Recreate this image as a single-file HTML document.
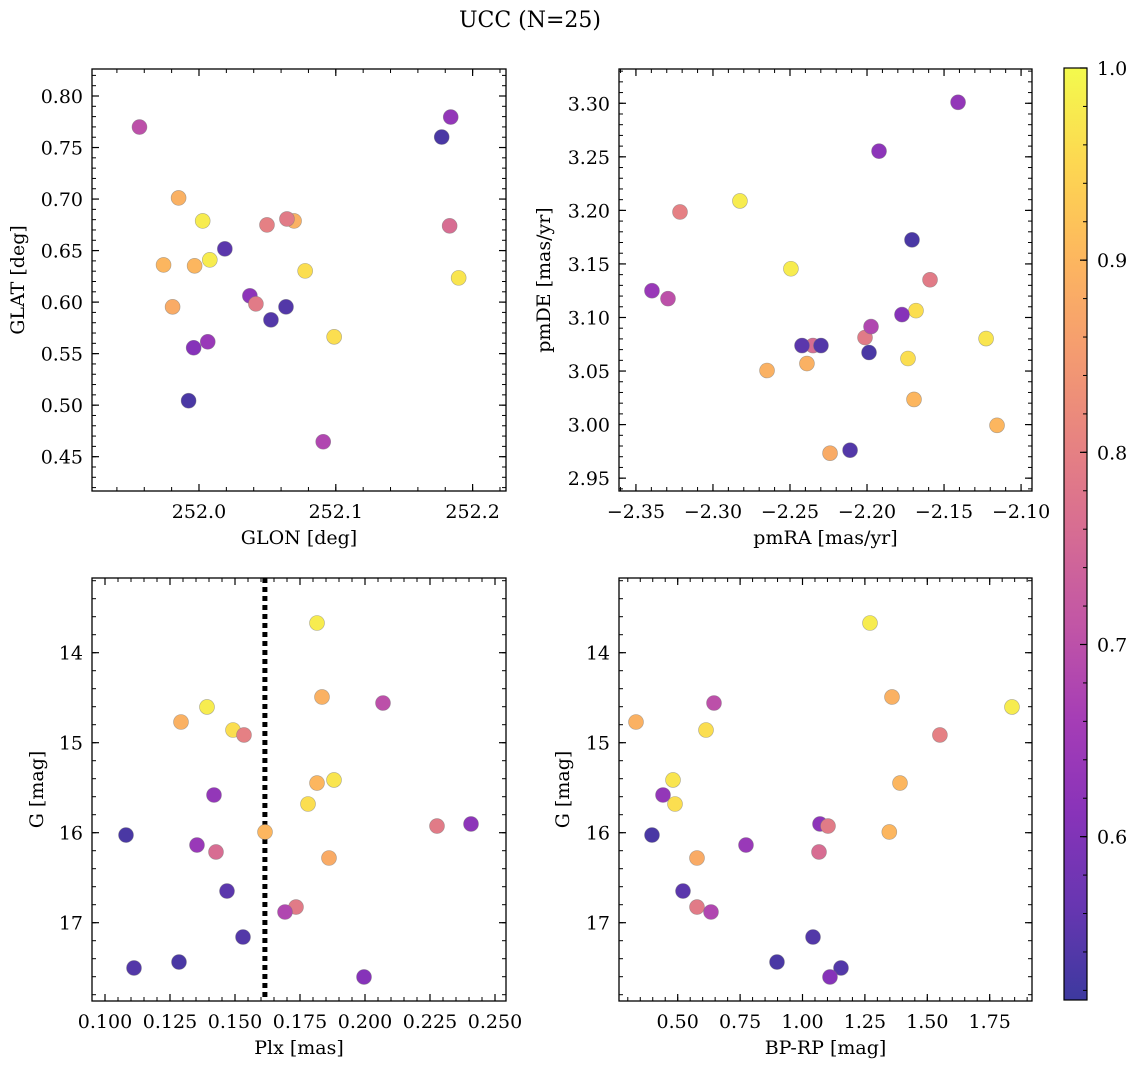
<!DOCTYPE html>
<html><head><meta charset="utf-8"><style>
html,body{margin:0;padding:0;background:#fff;}
svg text{font-family:"DejaVu Serif","Liberation Serif",serif;fill:#000;}
</style></head><body>
<svg id="fig" width="1136" height="1068" viewBox="0 0 1136 1068" xmlns="http://www.w3.org/2000/svg">
<text x="530" y="27" font-size="22" text-anchor="middle">UCC (N=25)</text>
</svg>
<script>
const glon=[252.0027,251.9851,252.0695,251.9565,252.0079,252.0776,252.0497,252.1898,252.1840,251.9741,252.0988,252.1774,251.9968,252.0372,252.0643,251.9807,252.0064,252.1832,252.0189,252.0416,252.0908,252.0636,251.9924,252.0526,251.9961];
const glat=[0.6788,0.7011,0.6788,0.7699,0.6410,0.6303,0.6749,0.6235,0.7796,0.6361,0.5663,0.7602,0.6352,0.6061,0.6807,0.5954,0.5615,0.6740,0.6517,0.5983,0.4645,0.5954,0.5043,0.5828,0.5557];
const pmra=[-2.2825,-2.2649,-2.2390,-2.3292,-2.2494,-2.1682,-2.3214,-2.1227,-2.1409,-2.1695,-2.1734,-2.1708,-2.1156,-2.1922,-2.2013,-2.2240,-2.3396,-2.2351,-2.2422,-2.1591,-2.1974,-2.2299,-2.1987,-2.2110,-2.1773];
const pmde=[3.2088,3.0505,3.0570,3.1176,3.1455,3.1064,3.1985,3.0803,3.3009,3.0235,3.0617,3.1725,2.9993,3.2553,3.0813,2.9733,3.1250,3.0738,3.0738,3.1352,3.0915,3.0738,3.0673,2.9761,3.1027];
const plx=[0.18154,0.12923,0.18346,0.20692,0.13923,0.14923,0.15346,0.18808,0.14192,0.18154,0.17808,0.10808,0.16154,0.24077,0.22769,0.18615,0.13538,0.14269,0.14692,0.17346,0.16923,0.15308,0.12846,0.11115,0.19962];
const gmag=[13.670,14.770,14.492,14.559,14.603,14.859,14.914,15.414,15.581,15.448,15.681,16.026,15.992,15.903,15.926,16.281,16.137,16.214,16.648,16.826,16.881,17.159,17.437,17.503,17.603];
const bprp=[1.2704,0.3329,1.3586,0.6454,1.8393,0.6134,1.5505,0.4812,0.4411,1.3906,0.4892,0.3970,1.3478,1.0701,1.1022,0.5773,0.7736,1.0661,0.5212,0.5773,0.6334,1.0421,0.8978,1.1542,1.1101];
const prob=[0.98,0.89,0.89,0.70,0.98,0.96,0.80,0.97,0.63,0.90,0.96,0.53,0.90,0.62,0.79,0.88,0.64,0.76,0.55,0.79,0.68,0.54,0.53,0.54,0.61];
const plxLine=0.1615;
const cbTicks=[0.6,0.7,0.8,0.9,1.0];

const NS="http://www.w3.org/2000/svg";
const svg=document.getElementById('fig');
function mk(tag,attrs,parent){const e=document.createElementNS(NS,tag);for(const k in attrs)e.setAttribute(k,attrs[k]);(parent||svg).appendChild(e);return e;}
const stops=[[13,8,135],[65,4,157],[106,0,168],[143,13,164],[177,42,144],[204,71,120],[225,100,98],[242,132,75],[252,166,54],[252,206,37],[240,249,33]];
function plasma(t){t=Math.max(0,Math.min(1,t));const f=t*10,i=Math.min(9,Math.floor(f)),r=f-i;const a=stops[i],b=stops[i+1];
 const c=a.map((v,k)=>v+(b[k]-v)*r);const al=0.8;return 'rgb('+c.map(v=>Math.round(v*al+255*(1-al))).join(',')+')';}
const vmin=0.515,vmax=1.0;

function panel(o){
 const g=mk('g',{});
 
 
 const sx=v=>o.x0+(v-o.xmin)/(o.xmax-o.xmin)*(o.x1-o.x0);
 const sy=v=>o.inv? o.y0+(v-o.ymin)/(o.ymax-o.ymin)*(o.y1-o.y0) : o.y1-(v-o.ymin)/(o.ymax-o.ymin)*(o.y1-o.y0);
 const eps=1e-9;
 const nx0=Math.ceil(o.xmin/o.xmin_s-eps), nx1=Math.floor(o.xmax/o.xmin_s+eps);
 for(let n=nx0;n<=nx1;n++){const x=sx(n*o.xmin_s);
  mk('line',{x1:x,x2:x,y1:o.y1,y2:o.y1-4,stroke:'#000','stroke-width':1},g);mk('line',{x1:x,x2:x,y1:o.y0,y2:o.y0+4,stroke:'#000','stroke-width':1},g);}
 const ny0=Math.ceil(o.ymin/o.ymin_s-eps), ny1=Math.floor(o.ymax/o.ymin_s+eps);
 for(let n=ny0;n<=ny1;n++){const y=sy(n*o.ymin_s);
  mk('line',{x1:o.x0,x2:o.x0+4,y1:y,y2:y,stroke:'#000','stroke-width':1},g);mk('line',{x1:o.x1,x2:o.x1-4,y1:y,y2:y,stroke:'#000','stroke-width':1},g);}
 o.xt.forEach(v=>{const x=sx(v);
  mk('line',{x1:x,x2:x,y1:o.y1,y2:o.y1-7,stroke:'#000','stroke-width':1.2},g);mk('line',{x1:x,x2:x,y1:o.y0,y2:o.y0+7,stroke:'#000','stroke-width':1.2},g);
  const t=mk('text',{x:x,y:o.y1+27,'font-size':19,'text-anchor':'middle'},g);t.textContent=o.xf(v).replace('-','\u2212');
  
  });
 o.yt.forEach(v=>{const y=sy(v);
  mk('line',{x1:o.x0,x2:o.x0+7,y1:y,y2:y,stroke:'#000','stroke-width':1.2},g);mk('line',{x1:o.x1,x2:o.x1-7,y1:y,y2:y,stroke:'#000','stroke-width':1.2},g);
  const t=mk('text',{x:o.x0-9,y:y+7,'font-size':19,'text-anchor':'end'},g);t.textContent=o.yf(v);
  
  });
 if(o.vline!==undefined){const l=mk('line',{x1:sx(o.vline),x2:sx(o.vline),y1:o.y0,y2:o.y1,stroke:'#000','stroke-width':5,'stroke-dasharray':'5,4'},g);
  
  }
 o.xs.forEach((xv,i)=>{const c=mk('circle',{cx:sx(xv),cy:sy(o.ys[i]),r:7.5,fill:plasma((prob[i]-vmin)/(vmax-vmin)),stroke:'rgba(120,120,120,0.6)','stroke-width':0.6},g);
  
  });
 mk('rect',{x:o.x0,y:o.y0,width:o.x1-o.x0,height:o.y1-o.y0,fill:'none',stroke:'#000','stroke-width':1.3},g);
 const xl=mk('text',{x:(o.x0+o.x1)/2,y:o.y1+53,'font-size':19,'text-anchor':'middle'},g);xl.textContent=o.xlab;
 
 
 const yc=(o.y0+o.y1)/2;
 const yl=mk('text',{x:o.ylx,y:yc,'font-size':19,'text-anchor':'middle',transform:'rotate(-90 '+o.ylx+' '+yc+')'},g);yl.textContent=o.ylab;
 
 
}
panel({name:'glon-glat-panel',x0:92,x1:506,y0:69,y1:491,xmin:251.9218,xmax:252.2244,ymin:0.4167,ymax:0.8262,inv:false,
 xt:[252.0,252.1,252.2],yt:[0.45,0.5,0.55,0.6,0.65,0.7,0.75,0.8],xmin_s:0.02,ymin_s:0.01,xf:v=>v.toFixed(1),yf:v=>v.toFixed(2),
 xs:glon,ys:glat,xlab:'GLON [deg]',ylab:'GLAT [deg]',ylx:24});
panel({name:'pm-panel',x0:619,x1:1032,y0:69,y1:491,xmin:-2.3610,xmax:-2.0929,ymin:2.938,ymax:3.332,inv:false,
 xt:[-2.35,-2.3,-2.25,-2.2,-2.15,-2.1],yt:[2.95,3.0,3.05,3.1,3.15,3.2,3.25,3.3],xmin_s:0.01,ymin_s:0.01,xf:v=>v.toFixed(2),yf:v=>v.toFixed(2),
 xs:pmra,ys:pmde,xlab:'pmRA [mas/yr]',ylab:'pmDE [mas/yr]',ylx:550});
panel({name:'plx-g-panel',x0:92,x1:506,y0:578,y1:1001,xmin:0.095,xmax:0.25423,ymin:13.170,ymax:17.870,inv:true,
 xt:[0.1,0.125,0.15,0.175,0.2,0.225,0.25],yt:[14,15,16,17],xmin_s:0.005,ymin_s:0.2,xf:v=>v.toFixed(3),yf:v=>v.toFixed(0),
 xs:plx,ys:gmag,xlab:'Plx [mas]',ylab:'G [mag]',ylx:43,vline:plxLine});
panel({name:'cmd-panel',x0:619,x1:1032,y0:578,y1:1001,xmin:0.2648,xmax:1.9195,ymin:13.170,ymax:17.870,inv:true,
 xt:[0.5,0.75,1.0,1.25,1.5,1.75],yt:[14,15,16,17],xmin_s:0.05,ymin_s:0.2,xf:v=>v.toFixed(2),yf:v=>v.toFixed(0),
 xs:bprp,ys:gmag,xlab:'BP-RP [mag]',ylab:'G [mag]',ylx:569});

// colorbar
const cb=mk('g',{});


const cx0=1064,cx1=1087,cy0=68,cy1=1000;
const defs=mk('defs',{},cb);const lg=mk('linearGradient',{id:'cbg',x1:0,y1:1,x2:0,y2:0},defs);
for(let i=0;i<=20;i++){mk('stop',{offset:(i/20),'stop-color':plasma(i/20)},lg);}
mk('rect',{x:cx0,y:cy0,width:cx1-cx0,height:cy1-cy0,fill:'url(#cbg)',stroke:'#000','stroke-width':1.2},cb);
const cy=v=>cy1-(v-vmin)/(vmax-vmin)*(cy1-cy0);
for(let n=26;n<=50;n++){const y=cy(n*0.02);mk('line',{x1:cx1,x2:cx1-4,y1:y,y2:y,stroke:'#000','stroke-width':1},cb);}
cbTicks.forEach(v=>{const y=cy(v);mk('line',{x1:cx1,x2:cx1-7,y1:y,y2:y,stroke:'#000','stroke-width':1.2},cb);
 const t=mk('text',{x:1097,y:y+7,'font-size':19},cb);t.textContent=v.toFixed(1);
 
 });
</script>
</body></html>
